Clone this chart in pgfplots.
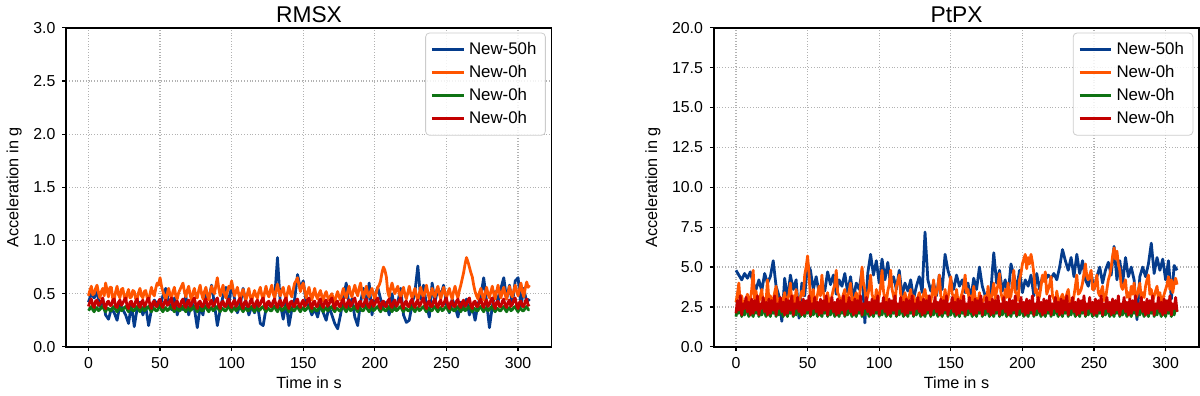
\documentclass[border=0pt]{standalone}
\usepackage{fontspec}
\setmainfont{Liberation Sans}
\usepackage{pgfplots}
\usepackage{pgfplotstable}
\pgfplotsset{compat=1.18}

\definecolor{c50h}{RGB}{5,60,140}
\definecolor{c0a}{RGB}{255,85,0}
\definecolor{c0b}{RGB}{15,115,20}
\definecolor{c0c}{RGB}{195,0,0}

% RMSX, New-50h (every 2 s)
\pgfplotstableread{
t b
0 0.42
2 0.50
4 0.46
6 0.52
8 0.38
10 0.45
12 0.30
14 0.26
16 0.36
18 0.32
20 0.25
22 0.40
24 0.35
26 0.30
28 0.22
30 0.40
32 0.19
34 0.36
36 0.42
38 0.30
40 0.38
42 0.20
44 0.35
46 0.44
48 0.40
50 0.38
52 0.48
54 0.55
56 0.42
58 0.35
60 0.46
62 0.30
64 0.40
66 0.35
68 0.48
70 0.30
72 0.42
74 0.36
76 0.18
78 0.38
80 0.30
82 0.52
84 0.45
86 0.58
88 0.40
90 0.20
92 0.35
94 0.48
96 0.56
98 0.38
100 0.60
102 0.45
104 0.32
106 0.40
108 0.55
110 0.42
112 0.30
114 0.38
116 0.32
118 0.40
120 0.22
122 0.20
124 0.36
126 0.42
128 0.38
130 0.45
132 0.84
134 0.40
136 0.26
138 0.42
140 0.20
142 0.35
144 0.45
146 0.68
148 0.55
150 0.62
152 0.42
154 0.38
156 0.30
158 0.36
160 0.28
162 0.40
164 0.32
166 0.25
168 0.38
170 0.30
172 0.22
174 0.17
176 0.30
178 0.45
180 0.60
182 0.38
184 0.45
186 0.28
188 0.20
190 0.42
192 0.55
194 0.38
196 0.60
198 0.30
200 0.48
202 0.56
204 0.45
206 0.38
208 0.42
210 0.30
212 0.50
214 0.35
216 0.42
218 0.55
220 0.30
222 0.23
224 0.25
226 0.40
228 0.52
230 0.76
232 0.45
234 0.58
236 0.40
238 0.28
240 0.60
242 0.42
244 0.55
246 0.48
248 0.58
250 0.40
252 0.32
254 0.45
256 0.38
258 0.28
260 0.42
262 0.35
264 0.45
266 0.30
268 0.38
270 0.25
272 0.40
274 0.48
276 0.65
278 0.42
280 0.18
282 0.38
284 0.52
286 0.42
288 0.55
290 0.65
292 0.45
294 0.58
296 0.40
298 0.62
300 0.65
302 0.38
304 0.55
306 0.42
308 0.45
}\rmsblue

% RMSX, the three New-0h runs (every 1 s): orange, green, red
\pgfplotstableread{
t o g r
0 0.48 0.34 0.38
1 0.53 0.36 0.42
2 0.57 0.38 0.45
3 0.49 0.35 0.39
4 0.50 0.33 0.37
5 0.55 0.36 0.43
6 0.58 0.37 0.44
7 0.51 0.34 0.39
8 0.46 0.35 0.40
9 0.52 0.37 0.43
10 0.55 0.38 0.46
11 0.48 0.35 0.38
12 0.60 0.33 0.36
13 0.53 0.36 0.42
14 0.47 0.36 0.43
15 0.56 0.34 0.39
16 0.56 0.34 0.39
17 0.45 0.37 0.44
18 0.44 0.38 0.45
19 0.52 0.35 0.38
20 0.57 0.33 0.37
21 0.49 0.36 0.42
22 0.46 0.37 0.44
23 0.54 0.34 0.39
24 0.55 0.35 0.41
25 0.47 0.37 0.44
26 0.43 0.38 0.46
27 0.50 0.35 0.38
28 0.54 0.33 0.36
29 0.46 0.36 0.42
30 0.47 0.36 0.43
31 0.53 0.34 0.38
32 0.52 0.34 0.38
33 0.45 0.37 0.43
34 0.44 0.38 0.45
35 0.51 0.35 0.39
36 0.55 0.33 0.37
37 0.48 0.36 0.42
38 0.46 0.37 0.44
39 0.52 0.34 0.38
40 0.53 0.35 0.40
41 0.46 0.37 0.44
42 0.43 0.38 0.46
43 0.50 0.35 0.39
44 0.56 0.33 0.36
45 0.50 0.36 0.42
46 0.48 0.36 0.43
47 0.55 0.34 0.38
48 0.60 0.34 0.38
49 0.58 0.37 0.43
50 0.65 0.38 0.45
51 0.57 0.35 0.39
52 0.52 0.33 0.37
53 0.48 0.36 0.42
54 0.44 0.37 0.44
55 0.50 0.34 0.39
56 0.55 0.35 0.40
57 0.49 0.37 0.44
58 0.46 0.38 0.46
59 0.52 0.35 0.38
60 0.56 0.33 0.36
61 0.48 0.36 0.42
62 0.45 0.36 0.43
63 0.51 0.34 0.38
64 0.54 0.34 0.38
65 0.57 0.37 0.43
66 0.60 0.38 0.45
67 0.52 0.35 0.39
68 0.47 0.33 0.37
69 0.53 0.36 0.42
70 0.57 0.37 0.44
71 0.49 0.34 0.38
72 0.44 0.35 0.40
73 0.51 0.37 0.44
74 0.55 0.38 0.46
75 0.48 0.35 0.39
76 0.46 0.33 0.36
77 0.53 0.36 0.42
78 0.58 0.36 0.43
79 0.50 0.34 0.38
80 0.45 0.34 0.38
81 0.52 0.37 0.43
82 0.56 0.38 0.45
83 0.49 0.35 0.39
84 0.44 0.33 0.37
85 0.51 0.36 0.42
86 0.57 0.37 0.44
87 0.52 0.34 0.38
88 0.50 0.35 0.40
89 0.58 0.37 0.44
90 0.65 0.38 0.46
91 0.55 0.35 0.39
92 0.48 0.33 0.36
93 0.53 0.36 0.42
94 0.58 0.36 0.43
95 0.50 0.34 0.38
96 0.46 0.34 0.38
97 0.52 0.37 0.43
98 0.57 0.38 0.45
99 0.55 0.35 0.39
100 0.62 0.33 0.37
101 0.54 0.36 0.42
102 0.48 0.37 0.44
103 0.52 0.34 0.38
104 0.56 0.35 0.40
105 0.49 0.37 0.44
106 0.45 0.38 0.46
107 0.51 0.35 0.39
108 0.54 0.33 0.36
109 0.48 0.36 0.42
110 0.44 0.36 0.43
111 0.50 0.34 0.38
112 0.55 0.34 0.38
113 0.47 0.37 0.43
114 0.43 0.38 0.45
115 0.49 0.35 0.39
116 0.53 0.33 0.37
117 0.48 0.36 0.42
118 0.46 0.37 0.44
119 0.52 0.34 0.38
120 0.56 0.35 0.40
121 0.49 0.37 0.44
122 0.44 0.38 0.46
123 0.51 0.35 0.39
124 0.57 0.33 0.36
125 0.50 0.36 0.42
126 0.47 0.36 0.43
127 0.53 0.34 0.38
128 0.58 0.34 0.38
129 0.50 0.37 0.43
130 0.46 0.38 0.45
131 0.53 0.35 0.39
132 0.59 0.33 0.37
133 0.52 0.36 0.42
134 0.48 0.37 0.44
135 0.53 0.34 0.38
136 0.56 0.35 0.40
137 0.49 0.37 0.44
138 0.45 0.38 0.46
139 0.51 0.35 0.39
140 0.57 0.33 0.36
141 0.50 0.36 0.42
142 0.47 0.36 0.43
143 0.54 0.34 0.38
144 0.60 0.34 0.38
145 0.62 0.37 0.43
146 0.65 0.38 0.45
147 0.58 0.35 0.39
148 0.52 0.33 0.37
149 0.57 0.36 0.42
150 0.60 0.37 0.44
151 0.53 0.34 0.38
152 0.46 0.35 0.40
153 0.51 0.37 0.44
154 0.56 0.38 0.46
155 0.49 0.35 0.39
156 0.44 0.33 0.36
157 0.50 0.36 0.42
158 0.55 0.36 0.43
159 0.48 0.34 0.38
160 0.45 0.34 0.38
161 0.50 0.37 0.43
162 0.53 0.38 0.45
163 0.47 0.35 0.39
164 0.43 0.33 0.37
165 0.49 0.36 0.42
166 0.52 0.37 0.44
167 0.47 0.34 0.38
168 0.44 0.35 0.40
169 0.48 0.37 0.44
170 0.50 0.38 0.46
171 0.45 0.35 0.39
172 0.42 0.33 0.36
173 0.48 0.36 0.42
174 0.52 0.36 0.43
175 0.47 0.34 0.38
176 0.44 0.34 0.38
177 0.50 0.37 0.43
178 0.55 0.38 0.45
179 0.49 0.35 0.39
180 0.46 0.33 0.37
181 0.52 0.36 0.42
182 0.57 0.37 0.44
183 0.50 0.34 0.38
184 0.47 0.35 0.40
185 0.53 0.37 0.44
186 0.58 0.38 0.46
187 0.52 0.35 0.39
188 0.48 0.33 0.36
189 0.55 0.36 0.42
190 0.60 0.36 0.43
191 0.52 0.34 0.38
192 0.46 0.34 0.38
193 0.51 0.37 0.43
194 0.57 0.38 0.45
195 0.50 0.35 0.39
196 0.47 0.33 0.37
197 0.52 0.36 0.42
198 0.55 0.37 0.44
199 0.49 0.34 0.38
200 0.45 0.35 0.40
201 0.51 0.37 0.44
202 0.56 0.38 0.46
203 0.58 0.35 0.39
204 0.62 0.33 0.36
205 0.70 0.36 0.42
206 0.75 0.36 0.43
207 0.72 0.34 0.38
208 0.66 0.34 0.38
209 0.52 0.37 0.43
210 0.47 0.38 0.45
211 0.55 0.35 0.39
212 0.60 0.33 0.37
213 0.54 0.36 0.42
214 0.50 0.37 0.44
215 0.54 0.34 0.38
216 0.57 0.35 0.40
217 0.50 0.37 0.44
218 0.46 0.38 0.46
219 0.52 0.35 0.39
220 0.56 0.33 0.36
221 0.49 0.36 0.42
222 0.45 0.36 0.43
223 0.51 0.34 0.38
224 0.57 0.34 0.38
225 0.50 0.37 0.43
226 0.46 0.38 0.45
227 0.51 0.35 0.39
228 0.55 0.33 0.37
229 0.48 0.36 0.42
230 0.44 0.37 0.44
231 0.50 0.34 0.38
232 0.56 0.35 0.40
233 0.50 0.37 0.44
234 0.46 0.38 0.46
235 0.52 0.35 0.39
236 0.58 0.33 0.36
237 0.51 0.36 0.42
238 0.45 0.36 0.43
239 0.50 0.34 0.38
240 0.55 0.34 0.38
241 0.49 0.37 0.43
242 0.47 0.38 0.45
243 0.53 0.35 0.39
244 0.57 0.33 0.37
245 0.50 0.36 0.42
246 0.45 0.37 0.44
247 0.51 0.34 0.38
248 0.56 0.35 0.40
249 0.50 0.37 0.44
250 0.46 0.38 0.46
251 0.51 0.35 0.39
252 0.55 0.33 0.36
253 0.49 0.36 0.42
254 0.45 0.36 0.43
255 0.52 0.34 0.38
256 0.57 0.34 0.38
257 0.50 0.37 0.43
258 0.46 0.38 0.45
259 0.53 0.35 0.39
260 0.58 0.33 0.37
261 0.64 0.36 0.42
262 0.70 0.37 0.44
263 0.78 0.34 0.38
264 0.84 0.35 0.40
265 0.80 0.37 0.44
266 0.75 0.38 0.46
267 0.70 0.35 0.39
268 0.66 0.33 0.36
269 0.58 0.36 0.42
270 0.52 0.36 0.43
271 0.48 0.34 0.38
272 0.45 0.34 0.38
273 0.51 0.37 0.43
274 0.55 0.38 0.45
275 0.49 0.35 0.39
276 0.44 0.33 0.37
277 0.50 0.36 0.42
278 0.56 0.37 0.44
279 0.50 0.34 0.38
280 0.46 0.35 0.40
281 0.52 0.37 0.44
282 0.57 0.38 0.46
283 0.50 0.35 0.39
284 0.45 0.33 0.36
285 0.52 0.36 0.42
286 0.58 0.36 0.43
287 0.51 0.34 0.38
288 0.46 0.34 0.38
289 0.52 0.37 0.43
290 0.56 0.38 0.45
291 0.49 0.35 0.39
292 0.45 0.33 0.37
293 0.51 0.36 0.42
294 0.57 0.37 0.44
295 0.50 0.34 0.38
296 0.47 0.35 0.40
297 0.53 0.37 0.44
298 0.58 0.38 0.46
299 0.52 0.35 0.39
300 0.48 0.33 0.36
301 0.54 0.36 0.42
302 0.60 0.36 0.43
303 0.52 0.34 0.38
304 0.47 0.34 0.38
305 0.55 0.37 0.43
306 0.61 0.38 0.45
307 0.56 0.35 0.39
308 0.58 0.35 0.40
}\rmsnew

% PtPX, New-50h (every 2 s)
\pgfplotstableread{
t b
0 4.8
2 4.5
4 4.2
6 4.6
8 4.3
10 4.7
12 4.0
14 3.6
16 4.2
18 3.5
20 4.6
22 4.0
24 4.4
26 5.4
28 3.8
30 3.2
32 1.6
34 4.3
36 3.0
38 4.5
40 3.6
42 4.2
44 1.8
46 4.0
48 3.2
50 5.2
52 4.8
54 3.6
56 4.4
58 3.4
60 4.0
62 3.5
64 4.7
66 3.9
68 4.5
70 3.3
72 4.2
74 3.8
76 4.6
78 3.4
80 4.4
82 3.0
84 4.0
86 3.6
88 4.8
90 1.5
92 4.6
94 5.8
96 4.5
98 5.4
100 4.0
102 5.5
104 4.2
106 5.3
108 3.8
110 4.4
112 3.6
114 4.8
116 3.2
118 4.0
120 3.5
122 4.2
124 3.0
126 3.8
128 4.4
130 3.4
132 7.2
134 4.2
136 3.5
138 4.0
140 3.2
142 4.5
144 3.6
146 5.8
148 4.8
150 4.2
152 3.6
154 4.5
156 3.8
158 4.2
160 3.4
162 4.0
164 3.0
166 4.3
168 3.6
170 5.0
172 3.8
174 3.2
176 2.4
178 3.5
180 5.9
182 4.0
184 4.8
186 3.5
188 4.2
190 3.2
192 5.2
194 4.5
196 3.6
198 4.8
200 3.4
202 4.2
204 3.8
206 4.5
208 3.2
210 4.6
212 3.6
214 4.4
216 4.2
218 4.5
220 4.3
222 4.6
224 4.2
226 5.0
228 6.1
230 5.4
232 4.8
234 5.6
236 4.4
238 5.8
240 4.6
242 5.4
244 4.2
246 3.8
248 4.6
250 3.6
252 4.4
254 5.0
256 4.0
258 4.8
260 5.3
262 4.5
264 6.3
266 4.2
268 5.4
270 4.0
272 5.6
274 4.4
276 5.0
278 4.2
280 1.7
282 4.4
284 5.0
286 4.4
288 5.2
290 6.5
292 4.6
294 5.6
296 4.8
298 5.5
300 4.2
302 5.4
304 3.0
306 5.1
308 4.8
}\ptpblue

% PtPX, the three New-0h runs (every 1 s): orange, green, red
\pgfplotstableread{
t o g r
0 2.8 1.9 2.1
1 3.3 2.4 2.9
2 4.0 2.1 2.3
3 2.7 2.6 3.2
4 3.2 1.9 2.0
5 2.6 2.3 2.7
6 2.6 2.0 2.4
7 3.0 2.5 3.1
8 3.3 2.2 2.2
9 2.7 1.9 2.8
10 2.9 2.4 2.0
11 3.6 2.1 3.0
12 4.8 1.9 2.1
13 3.0 2.4 2.9
14 3.5 2.1 2.3
15 2.7 2.6 3.2
16 2.8 1.9 2.0
17 3.2 2.3 2.7
18 3.6 2.0 2.4
19 2.7 2.5 3.1
20 3.0 2.2 2.2
21 2.8 1.9 2.8
22 4.2 2.4 2.0
23 2.9 2.1 3.0
24 3.2 1.9 2.1
25 2.7 2.4 2.9
26 2.9 2.1 2.3
27 3.4 2.6 3.2
28 3.8 1.9 2.0
29 2.8 2.3 2.7
30 3.0 2.0 2.4
31 2.6 2.5 3.1
32 2.6 2.2 2.2
33 3.0 1.9 2.8
34 3.4 2.4 2.0
35 2.7 2.1 3.0
36 2.9 1.9 2.1
37 3.3 2.4 2.9
38 4.0 2.1 2.3
39 2.8 2.6 3.2
40 3.2 1.9 2.0
41 2.7 2.3 2.7
42 3.6 2.0 2.4
43 2.9 2.5 3.1
44 2.8 2.2 2.2
45 3.1 1.9 2.8
46 3.5 2.4 2.0
47 3.2 2.1 3.0
48 4.5 1.9 2.1
49 5.0 2.4 2.9
50 5.7 2.1 2.3
51 4.6 2.6 3.2
52 3.0 1.9 2.0
53 2.8 2.3 2.7
54 3.6 2.0 2.4
55 2.7 2.5 3.1
56 2.9 2.2 2.2
57 3.3 1.9 2.8
58 3.8 2.4 2.0
59 3.2 2.1 3.0
60 4.5 1.9 2.1
61 3.4 2.4 2.9
62 3.0 2.1 2.3
63 2.7 2.6 3.2
64 3.4 1.9 2.0
65 2.8 2.3 2.7
66 2.7 2.0 2.4
67 3.2 2.5 3.1
68 3.6 2.2 2.2
69 3.9 1.9 2.8
70 4.8 2.4 2.0
71 3.4 2.1 3.0
72 3.2 1.9 2.1
73 2.7 2.4 2.9
74 2.9 2.1 2.3
75 3.3 2.6 3.2
76 3.6 1.9 2.0
77 2.8 2.3 2.7
78 3.1 2.0 2.4
79 3.5 2.5 3.1
80 4.0 2.2 2.2
81 2.9 1.9 2.8
82 2.8 2.4 2.0
83 3.1 2.1 3.0
84 3.4 1.9 2.1
85 2.7 2.4 2.9
86 3.0 2.1 2.3
87 3.8 2.6 3.2
88 5.0 1.9 2.0
89 4.0 2.3 2.7
90 3.6 2.0 2.4
91 2.8 2.5 3.1
92 3.2 2.2 2.2
93 3.7 1.9 2.8
94 4.5 2.4 2.0
95 3.3 2.1 3.0
96 3.0 1.9 2.1
97 2.7 2.4 2.9
98 3.6 2.1 2.3
99 2.8 2.6 3.2
100 3.2 1.9 2.0
101 3.8 2.3 2.7
102 4.8 2.0 2.4
103 3.5 2.5 3.1
104 3.0 2.2 2.2
105 2.8 1.9 2.8
106 3.5 2.4 2.0
107 3.9 2.1 3.0
108 4.8 1.9 2.1
109 3.6 2.4 2.9
110 3.2 2.1 2.3
111 2.7 2.6 3.2
112 3.8 1.9 2.0
113 4.1 2.3 2.7
114 4.5 2.0 2.4
115 3.3 2.5 3.1
116 3.0 2.2 2.2
117 2.7 1.9 2.8
118 3.4 2.4 2.0
119 2.9 2.1 3.0
120 2.8 1.9 2.1
121 3.2 2.4 2.9
122 3.6 2.1 2.3
123 2.8 2.6 3.2
124 3.2 1.9 2.0
125 2.7 2.3 2.7
126 2.9 2.0 2.4
127 3.1 2.5 3.1
128 3.4 2.2 2.2
129 2.7 1.9 2.8
130 3.0 2.4 2.0
131 3.3 2.1 3.0
132 3.6 1.9 2.1
133 2.8 2.4 2.9
134 3.2 2.1 2.3
135 2.7 2.6 3.2
136 2.8 1.9 2.0
137 3.4 2.3 2.7
138 4.2 2.0 2.4
139 3.1 2.5 3.1
140 3.4 2.2 2.2
141 3.8 1.9 2.8
142 4.5 2.4 2.0
143 3.2 2.1 3.0
144 3.0 1.9 2.1
145 2.7 2.4 2.9
146 3.6 2.1 2.3
147 2.8 2.6 3.2
148 3.0 1.9 2.0
149 3.7 2.3 2.7
150 4.4 2.0 2.4
151 3.3 2.5 3.1
152 3.2 2.2 2.2
153 2.7 1.9 2.8
154 3.6 2.4 2.0
155 2.9 2.1 3.0
156 2.8 1.9 2.1
157 3.1 2.4 2.9
158 3.4 2.1 2.3
159 3.8 2.6 3.2
160 4.5 1.9 2.0
161 3.4 2.3 2.7
162 3.6 2.0 2.4
163 2.8 2.5 3.1
164 3.2 2.2 2.2
165 2.7 1.9 2.8
166 3.8 2.4 2.0
167 3.1 2.1 3.0
168 3.0 1.9 2.1
169 2.7 2.4 2.9
170 3.4 2.1 2.3
171 2.8 2.6 3.2
172 2.8 1.9 2.0
173 3.0 2.3 2.7
174 3.2 2.0 2.4
175 2.7 2.5 3.1
176 3.8 2.2 2.2
177 2.9 1.9 2.8
178 3.0 2.4 2.0
179 3.4 2.1 3.0
180 4.0 1.9 2.1
181 3.0 2.4 2.9
182 3.5 2.1 2.3
183 3.9 2.6 3.2
184 4.6 1.9 2.0
185 3.4 2.3 2.7
186 3.0 2.0 2.4
187 2.7 2.5 3.1
188 3.6 2.2 2.2
189 3.1 1.9 2.8
190 4.0 2.4 2.0
191 3.0 2.1 3.0
192 3.2 1.9 2.1
193 3.9 2.4 2.9
194 4.8 2.1 2.3
195 3.4 2.6 3.2
196 3.4 1.9 2.0
197 2.9 2.3 2.7
198 4.2 2.0 2.4
199 4.6 2.5 3.1
200 5.2 2.2 2.2
201 5.5 1.9 2.8
202 5.8 2.4 2.0
203 4.9 2.1 3.0
204 5.6 1.9 2.1
205 5.2 2.4 2.9
206 5.8 2.1 2.3
207 5.3 2.6 3.2
208 4.6 1.9 2.0
209 3.4 2.3 2.7
210 3.6 2.0 2.4
211 2.8 2.5 3.1
212 3.2 2.2 2.2
213 3.8 1.9 2.8
214 4.5 2.4 2.0
215 4.1 2.1 3.0
216 4.7 1.9 2.1
217 3.3 2.4 2.9
218 3.6 2.1 2.3
219 3.9 2.6 3.2
220 4.4 1.9 2.0
221 3.2 2.3 2.7
222 3.0 2.0 2.4
223 2.7 2.5 3.1
224 3.5 2.2 2.2
225 2.9 1.9 2.8
226 2.8 2.4 2.0
227 3.1 2.1 3.0
228 3.3 1.9 2.1
229 2.7 2.4 2.9
230 3.0 2.1 2.3
231 3.3 2.6 3.2
232 3.6 1.9 2.0
233 2.8 2.3 2.7
234 2.9 2.0 2.4
235 2.7 2.5 3.1
236 3.2 2.2 2.2
237 3.8 1.9 2.8
238 4.5 2.4 2.0
239 3.3 2.1 3.0
240 3.4 1.9 2.1
241 3.6 2.4 2.9
242 4.0 2.1 2.3
243 4.6 2.6 3.2
244 5.2 1.9 2.0
245 4.4 2.3 2.7
246 4.2 2.0 2.4
247 4.5 2.5 3.1
248 4.8 2.2 2.2
249 3.6 1.9 2.8
250 3.6 2.4 2.0
251 4.0 2.1 3.0
252 4.5 1.9 2.1
253 3.4 2.4 2.9
254 3.2 2.1 2.3
255 3.5 2.6 3.2
256 3.8 1.9 2.0
257 2.9 2.3 2.7
258 3.0 2.0 2.4
259 3.6 2.5 3.1
260 4.2 2.2 2.2
261 4.5 1.9 2.8
262 5.0 2.4 2.0
263 5.7 2.1 3.0
264 6.2 1.9 2.1
265 5.5 2.4 2.9
266 6.0 2.1 2.3
267 5.2 2.6 3.2
268 4.8 1.9 2.0
269 3.8 2.3 2.7
270 3.6 2.0 2.4
271 3.9 2.5 3.1
272 4.2 2.2 2.2
273 3.1 1.9 2.8
274 3.4 2.4 2.0
275 3.0 2.1 3.0
276 3.8 1.9 2.1
277 3.3 2.4 2.9
278 4.0 2.1 2.3
279 3.0 2.6 3.2
280 3.2 1.9 2.0
281 3.6 2.3 2.7
282 4.0 2.0 2.4
283 3.0 2.5 3.1
284 3.4 2.2 2.2
285 3.1 1.9 2.8
286 3.8 2.4 2.0
287 4.2 2.1 3.0
288 4.5 1.9 2.1
289 3.3 2.4 2.9
290 3.6 2.1 2.3
291 2.9 2.6 3.2
292 3.2 1.9 2.0
293 3.5 2.3 2.7
294 3.8 2.0 2.4
295 3.0 2.5 3.1
296 3.4 2.2 2.2
297 2.8 1.9 2.8
298 3.0 2.4 2.0
299 3.3 2.1 3.0
300 3.6 1.9 2.1
301 3.9 2.4 2.9
302 4.4 2.1 2.3
303 3.6 2.6 3.2
304 4.2 1.9 2.0
305 3.4 2.3 2.7
306 4.0 2.0 2.4
307 4.3 2.5 3.1
308 3.9 2.2 2.2
}\ptpnew

\pgfplotsset{accel/.style={
  scale only axis, width=244.8pt, height=161pt,
  xmin=-15.4, xmax=323.4,
  xtick={0,50,100,150,200,250,300},
  grid=major,
  grid style={densely dotted, gray!60, line width=0.6pt},
  axis line style={line width=0.9pt},
  tick align=outside, xtick pos=bottom, ytick pos=left,
  major tick length=2pt,
  tick style={black, line width=0.6pt},
  /pgf/number format/assume math mode=true,
  ticklabel style={font=\fontsize{8}{9}\selectfont},
  yticklabel style={/pgf/number format/fixed, /pgf/number format/fixed zerofill, /pgf/number format/precision=1},
  xlabel={Time in s}, ylabel={Acceleration in g},
  label style={font=\fontsize{8.2}{9}\selectfont},
  xlabel style={yshift=3pt},
  ylabel style={yshift=-1pt},
  title style={font=\fontsize{11.5}{12}\selectfont, yshift=-7pt},
  legend style={at={(0.988,0.985)}, anchor=north east, draw=gray!40,
    rounded corners=2pt, fill=white, fill opacity=0.85, text opacity=1,
    font=\fontsize{8.5}{9.6}\selectfont, inner sep=2.5pt},
  legend cell align=left,
  legend image code/.code={\draw[#1] (0pt,0pt) -- (16pt,0pt);},
  every axis plot/.append style={line width=1.4pt, line join=round},
}}

\begin{document}
\begin{tikzpicture}
\begin{axis}[accel, title={RMSX}, ymin=0, ymax=3,
  ytick={0,0.5,1,1.5,2,2.5,3}]
\addplot[c50h] table[x=t, y=b] {\rmsblue};
\addplot[c0a] table[x=t, y=o] {\rmsnew};
\addplot[c0b] table[x=t, y=g] {\rmsnew};
\addplot[c0c] table[x=t, y=r] {\rmsnew};
\legend{New-50h, New-0h, New-0h, New-0h}
\end{axis}
\begin{axis}[accel, at={(326.7pt,0pt)}, title={PtPX}, ymin=0, ymax=20,
  ytick={0,2.5,5,7.5,10,12.5,15,17.5,20}]
\addplot[c50h] table[x=t, y=b] {\ptpblue};
\addplot[c0a] table[x=t, y=o] {\ptpnew};
\addplot[c0b] table[x=t, y=g] {\ptpnew};
\addplot[c0c] table[x=t, y=r] {\ptpnew};
\legend{New-50h, New-0h, New-0h, New-0h}
\end{axis}
\end{tikzpicture}
\end{document}
